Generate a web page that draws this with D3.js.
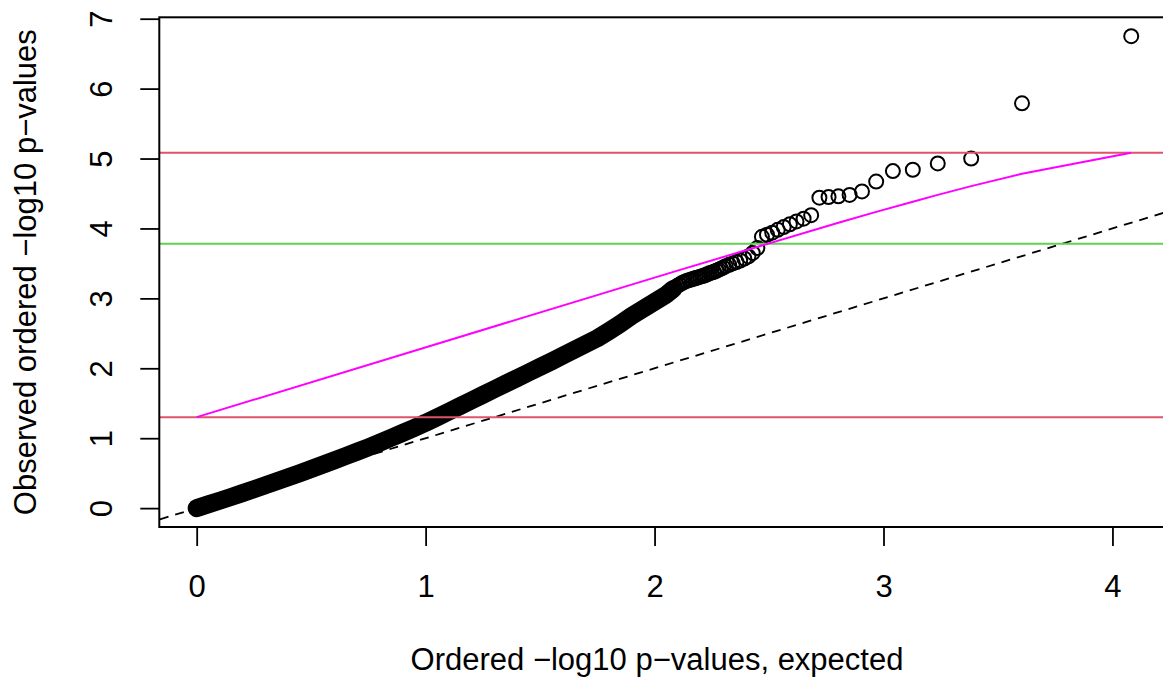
<!DOCTYPE html>
<html>
<head>
<meta charset="utf-8">
<script src="https://cdn.jsdelivr.net/npm/d3@7"></script>
<style>
    body { margin: 0; background: #ffffff; }
    text { font-family: "Liberation Sans", Arial, Helvetica, sans-serif; fill: #000000; }
</style>
</head>
<body>
<div id="qq"></div>
<script>
// Expected (x) and observed (y) ordered -log10 p-values
var expX = [
    0.00, 0.05, 0.10, 0.15, 0.20, 0.25, 0.30, 0.35, 0.40, 0.45,
    0.50, 0.55, 0.60, 0.65, 0.70, 0.75, 0.80, 0.85, 0.90, 0.95,
    1.00, 1.05, 1.10, 1.15, 1.20, 1.25, 1.30, 1.35, 1.40, 1.45,
    1.50, 1.55, 1.60, 1.65, 1.70, 1.75, 1.80, 1.85, 1.90, 1.95,
    2.00, 2.05, 2.08, 2.09, 2.10, 2.11, 2.12, 2.13, 2.14, 2.15,
    2.16, 2.17, 2.18, 2.19, 2.20, 2.21, 2.22, 2.23, 2.24, 2.25,
    2.26, 2.27, 2.28, 2.29, 2.30, 2.311, 2.326, 2.342, 2.358, 2.374,
    2.392, 2.410, 2.429, 2.449, 2.469, 2.491, 2.514, 2.538, 2.564, 2.591,
    2.620, 2.651, 2.684, 2.720, 2.760, 2.803, 2.852, 2.906, 2.968, 3.041,
    3.128, 3.237, 3.383, 3.605, 4.082
];
var obsY = [
    0.000, 0.053, 0.106, 0.160, 0.214, 0.270, 0.326, 0.383, 0.441, 0.500,
    0.560, 0.620, 0.681, 0.743, 0.806, 0.870, 0.937, 1.006, 1.076, 1.147,
    1.220, 1.298, 1.378, 1.458, 1.539, 1.620, 1.700, 1.780, 1.860, 1.940,
    2.020, 2.100, 2.182, 2.265, 2.348, 2.430, 2.530, 2.635, 2.750, 2.850,
    2.950, 3.050, 3.130, 3.160, 3.180, 3.200, 3.220, 3.235, 3.250, 3.260,
    3.270, 3.280, 3.290, 3.300, 3.310, 3.320, 3.330, 3.345, 3.360, 3.370,
    3.380, 3.395, 3.410, 3.425, 3.440, 3.460, 3.480, 3.500, 3.520, 3.540,
    3.570, 3.600, 3.650, 3.720, 3.880, 3.910, 3.940, 3.980, 4.020, 4.060,
    4.100, 4.140, 4.190, 4.440, 4.450, 4.460, 4.480, 4.530, 4.670, 4.820,
    4.840, 4.930, 5.000, 5.790, 6.750
];
// Where the points are so dense that they merge into a solid band
var solidUpTo = 2.08;

// Threshold line (magenta)
var critX = [0.00, 2.086, 2.803, 2.968, 3.128, 3.237, 3.383, 3.605, 4.082];
var critY = [1.301, 3.383, 4.082, 4.237, 4.383, 4.480, 4.605, 4.781, 5.082];

// Horizontal reference lines
var redLines = [1.301, 5.082];
var greenLines = [3.78];

// Axis ticks
var xTicks = [0, 1, 2, 3, 4];
var yTicks = [0, 1, 2, 3, 4, 5, 6, 7];

// Set up SVG params
var svgWdt = 1163;
var svgHgt = 679;
var plotLft = 159.3;
var plotRgt = 1168.6;
var plotTop = 17.3;
var plotBot = 527;

var svg = d3.select("#qq").append("svg")
    .attr("width", svgWdt)
    .attr("height", svgHgt);

// Scales (R-style 4% padding around the data range)
var xScl = d3.scaleLinear().domain([-0.1633, 4.2453]).range([plotLft, plotRgt]);
var yScl = d3.scaleLinear().domain([-0.27, 7.02]).range([plotBot, plotTop]);

// Clip for plot region
svg.append("clipPath").attr("id", "clip")
    .append("rect")
        .attr("x", plotLft)
        .attr("y", plotTop)
        .attr("width", plotRgt - plotLft)
        .attr("height", plotBot - plotTop);

var pts = expX.map((x, i) => ({x: x, y: obsY[i]}));

var plotGrp = svg.append("g").attr("clip-path", "url(#clip)");

// Solid band where circles overlap heavily
var bandLine = d3.line().x(d => xScl(d.x)).y(d => yScl(d.y));
plotGrp.append("path")
    .datum(pts.filter(d => d.x <= solidUpTo))
    .attr("d", bandLine)
    .attr("fill", "none")
    .attr("stroke", "#000000")
    .attr("stroke-width", 18)
    .attr("stroke-linecap", "round")
    .attr("stroke-linejoin", "round");

// Points (open circles)
plotGrp.selectAll("circle").data(pts)
    .enter()
    .append("circle")
        .attr("cx", d => xScl(d.x))
        .attr("cy", d => yScl(d.y))
        .attr("r", 7)
        .attr("fill", "none")
        .attr("stroke", "#000000")
        .attr("stroke-width", 2);

// y = x dashed line
var diag = xScl.domain();
plotGrp.append("line")
    .attr("x1", xScl(diag[0] - 1))
    .attr("y1", yScl(diag[0] - 1))
    .attr("x2", xScl(diag[1] + 1))
    .attr("y2", yScl(diag[1] + 1))
    .attr("stroke", "#000000")
    .attr("stroke-width", 1.8)
    .attr("stroke-dasharray", "9,7");

// Horizontal threshold lines
plotGrp.selectAll(".red").data(redLines)
    .enter()
    .append("line")
        .attr("class", "red")
        .attr("x1", plotLft).attr("x2", plotRgt)
        .attr("y1", d => yScl(d)).attr("y2", d => yScl(d))
        .attr("stroke", "#DF536B")
        .attr("stroke-width", 2);

plotGrp.selectAll(".green").data(greenLines)
    .enter()
    .append("line")
        .attr("class", "green")
        .attr("x1", plotLft).attr("x2", plotRgt)
        .attr("y1", d => yScl(d)).attr("y2", d => yScl(d))
        .attr("stroke", "#61D04F")
        .attr("stroke-width", 2);

// Magenta threshold curve
plotGrp.append("path")
    .datum(critX.map((x, i) => ({x: x, y: critY[i]})))
    .attr("d", bandLine)
    .attr("fill", "none")
    .attr("stroke", "#FF00FF")
    .attr("stroke-width", 2);

// Box
svg.append("rect")
    .attr("x", plotLft)
    .attr("y", plotTop)
    .attr("width", plotRgt - plotLft)
    .attr("height", plotBot - plotTop)
    .attr("fill", "none")
    .attr("stroke", "#000000")
    .attr("stroke-width", 2);

// Bottom axis
var xAxis = svg.append("g")
    .attr("transform", `translate(0, ${plotBot})`)
    .call(d3.axisBottom(xScl).tickValues(xTicks).tickSize(19).tickPadding(29).tickFormat(d3.format("d")));
xAxis.select(".domain").remove();
xAxis.selectAll("line").attr("stroke-width", 1.8);
xAxis.selectAll("text").style("font-size", "31px").style("font-family", null);

// Left axis, labels parallel to the axis
var yAxis = svg.append("g")
    .attr("transform", `translate(${plotLft}, 0)`)
    .call(d3.axisLeft(yScl).tickValues(yTicks).tickSize(19).tickFormat(d3.format("d")));
yAxis.select(".domain").remove();
yAxis.selectAll("line").attr("stroke-width", 1.8);
yAxis.selectAll("text")
    .attr("x", null)
    .attr("dy", null)
    .attr("transform", "translate(-47, 0) rotate(-90)")
    .attr("text-anchor", "middle")
    .style("font-size", "31px")
    .style("font-family", null);

// Axis titles
svg.append("text")
    .attr("x", 657)
    .attr("y", 670)
    .attr("text-anchor", "middle")
    .style("font-size", "31px")
    .text("Ordered \u2212log10 p\u2212values, expected");

svg.append("text")
    .attr("transform", `translate(36, ${(plotTop + plotBot) / 2}) rotate(-90)`)
    .attr("text-anchor", "middle")
    .style("font-size", "31px")
    .text("Observed ordered \u2212log10 p\u2212values");
</script>
</body>
</html>
